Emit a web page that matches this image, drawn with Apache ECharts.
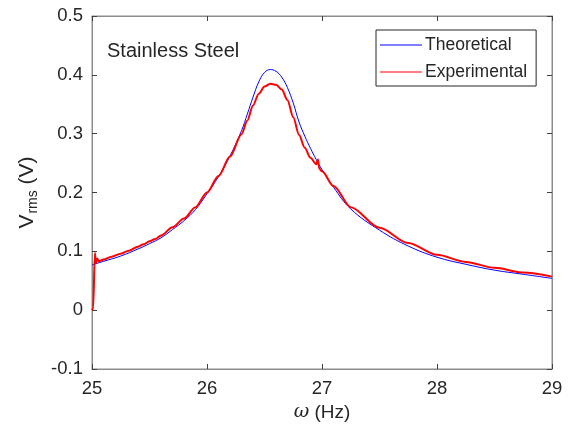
<!DOCTYPE html>
<html>
<head>
<meta charset="utf-8">
<script src="https://cdn.jsdelivr.net/npm/echarts@6/dist/echarts.min.js"></script>
<style>
  html, body { margin: 0; padding: 0; background: #fff; }
  #chart { width: 573px; height: 439px; }
</style>
</head>
<body>
<div id="chart"></div>
<script>
// values
var theoFreq = [25.00, 25.10, 25.25, 25.40, 25.50, 25.60, 25.70, 25.80, 25.90, 26.00,
                26.10, 26.20, 26.30, 26.35, 26.40, 26.45, 26.50, 26.55, 26.60, 26.65,
                26.70, 26.75, 26.80, 26.85, 26.90, 26.95, 27.00, 27.10, 27.25, 27.50,
                27.75, 28.00, 28.25, 28.50, 28.75, 29.00];
var theoV = [0.077, 0.083, 0.092, 0.104, 0.113, 0.123, 0.137, 0.152, 0.171, 0.198,
             0.227, 0.262, 0.305, 0.333, 0.362, 0.388, 0.404, 0.409, 0.406, 0.396,
             0.378, 0.352, 0.320, 0.296, 0.275, 0.256, 0.239, 0.209, 0.172, 0.136,
             0.109, 0.090, 0.078, 0.068, 0.061, 0.054];

var expFreq = [25.000, 25.010, 25.025, 25.035, 25.045, 25.060, 25.10, 25.17, 25.25, 25.32,
               25.40, 25.45, 25.50, 25.55, 25.60, 25.70, 25.80, 25.90, 26.00, 26.10,
               26.20, 26.30, 26.35, 26.40, 26.45, 26.50, 26.55, 26.60, 26.65, 26.70,
               26.75, 26.80, 26.85, 26.90, 26.95, 26.965, 26.975, 27.00, 27.10, 27.25,
               27.50, 27.75, 28.00, 28.25, 28.50, 28.75, 29.00];
var expV = [0.000, 0.003, 0.097, 0.080, 0.088, 0.083, 0.086, 0.091, 0.096, 0.101,
            0.108, 0.112, 0.117, 0.121, 0.127, 0.141, 0.156, 0.175, 0.200, 0.228,
            0.261, 0.299, 0.322, 0.348, 0.368, 0.380, 0.385, 0.383, 0.375, 0.357,
            0.328, 0.298, 0.276, 0.259, 0.248, 0.256, 0.241, 0.236, 0.211, 0.175,
            0.140, 0.114, 0.094, 0.082, 0.072, 0.064, 0.057];

var xTicks = [25, 26, 27, 28, 29];
var yTicks = ['-0.1', '0', '0.1', '0.2', '0.3', '0.4', '0.5'];

var txt = '#262626';
var boxColor = '#8c8c8c';
var font = 'Liberation Sans, Arial, sans-serif';

function pairs(xs, ys) {
    var out = [];
    for (var i = 0; i < xs.length; i++) out.push([xs[i], ys[i]]);
    return out;
}

var chart = echarts.init(document.getElementById('chart'));
var option = {
    animation: false,
    textStyle: { fontFamily: font, color: txt },
    grid: {
        left: 92, right: 21, top: 16, bottom: 70,
        show: true, borderColor: boxColor, borderWidth: 1
    },
    graphic: [{
        type: 'text', left: 107, top: 41,
        style: { text: 'Stainless Steel', fontSize: 20, fontFamily: font, fill: txt }
    }],
    legend: {
        orient: 'vertical',
        left: 376, top: 30,
        padding: [6, 9, 5, 4],
        itemWidth: 42, itemHeight: 14, itemGap: 9,
        backgroundColor: '#fff',
        borderColor: txt, borderWidth: 1,
        textStyle: { fontSize: 17.5, color: txt, fontFamily: font, padding: [0, 0, 0, -2] },
        data: [
            { name: 'Theoretical', icon: 'path://M0,0 L42,0 L42,1.2 L0,1.2 Z' },
            { name: 'Experimental', icon: 'path://M0,0 L42,0 L42,1.2 L0,1.2 Z' }
        ]
    },
    xAxis: [{
        type: 'value', min: 25, max: 29, interval: 1,
        name: '{i|ω} (Hz)', nameLocation: 'middle', nameGap: 30,
        nameTextStyle: {
            fontSize: 19, color: txt, fontFamily: font,
            rich: { i: { fontSize: 19, fontStyle: 'italic', fontFamily: 'DejaVu Serif, serif', color: txt } }
        },
        axisLine: { onZero: false, lineStyle: { color: boxColor } },
        axisTick: { inside: true, length: 5, lineStyle: { color: '#404040' } },
        axisLabel: { fontSize: 18.5, color: txt, margin: 10,
            formatter: function (v) { return xTicks.indexOf(v) >= 0 ? String(v) : ''; } },
        splitLine: { show: false }
    }, {
        type: 'value', min: 25, max: 29, interval: 1, position: 'top',
        axisLine: { onZero: false, lineStyle: { color: boxColor } },
        axisTick: { inside: true, length: 5, lineStyle: { color: '#404040' } },
        axisLabel: { show: false },
        splitLine: { show: false }
    }],
    yAxis: [{
        type: 'value', min: -0.1, max: 0.5, interval: 0.1,
        name: '{v|V}{s|rms}{v| (V)}', nameLocation: 'middle', nameGap: 50, nameRotate: 90,
        nameTextStyle: {
            color: txt, fontFamily: font,
            rich: {
                v: { fontSize: 21, color: txt, fontFamily: font },
                s: { fontSize: 14, color: txt, fontFamily: font, padding: [12, 0, 0, 1] }
            }
        },
        axisLine: { onZero: false, lineStyle: { color: boxColor } },
        axisTick: { inside: true, length: 5, lineStyle: { color: '#404040' } },
        axisLabel: { fontSize: 18.5, color: txt, margin: 9,
            formatter: function (v) { return yTicks[Math.round((v + 0.1) * 10)]; } },
        splitLine: { show: false }
    }, {
        type: 'value', min: -0.1, max: 0.5, interval: 0.1, position: 'right',
        axisLine: { show: true, onZero: false, lineStyle: { color: boxColor } },
        axisTick: { show: true, inside: true, length: 5, lineStyle: { color: '#404040' } },
        axisLabel: { show: false },
        splitLine: { show: false }
    }],
    series: [{
        name: 'Theoretical',
        type: 'line',
        data: pairs(theoFreq, theoV),
        showSymbol: false, symbol: 'none',
        smooth: 0.4,
        color: '#0000ff',
        lineStyle: { color: '#0000ff', width: 1 },
        z: 2
    }, {
        name: 'Experimental',
        type: 'line',
        data: pairs(expFreq, expV),
        showSymbol: false, symbol: 'none',
        smooth: 0.3, smoothMonotone: 'x',
        color: '#ff0000',
        lineStyle: { color: '#ff0000', width: 2 },
        z: 3
    }]
};
chart.setOption(option);
</script>
</body>
</html>
